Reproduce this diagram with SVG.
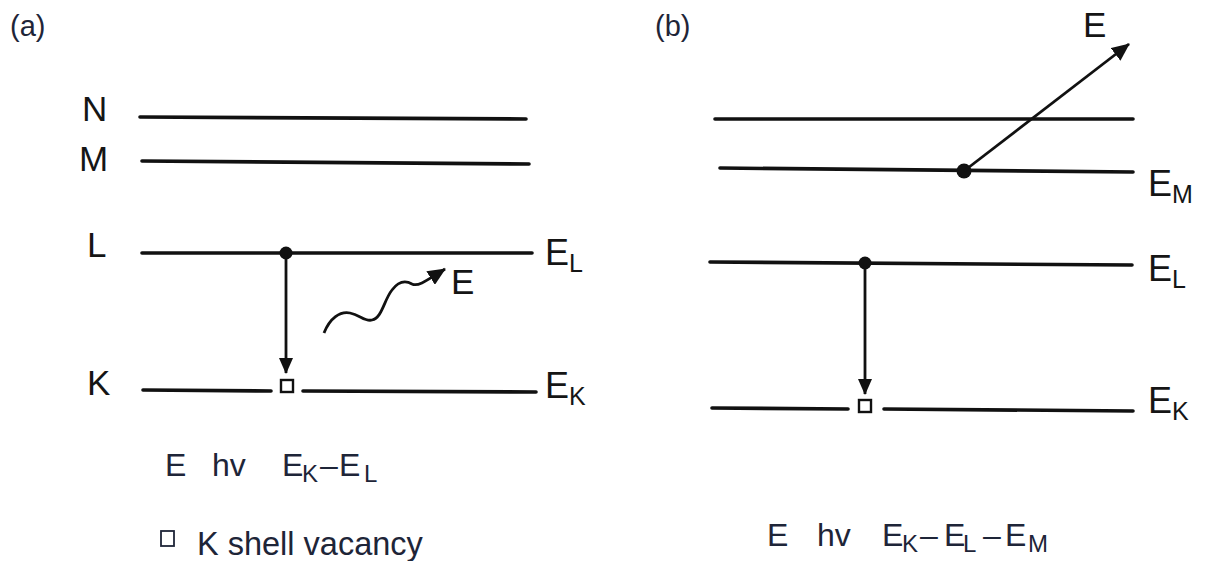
<svg xmlns="http://www.w3.org/2000/svg" width="1209" height="561" viewBox="0 0 1209 561">
<style>
.lvl{stroke:#111;stroke-width:3.6;fill:none;stroke-linecap:round}
.arr{stroke:#111;stroke-width:2.8;fill:none}
.lab{font-family:"Liberation Sans",Arial,sans-serif;font-size:35px;fill:#151515}
.el{font-family:"Liberation Sans",Arial,sans-serif;font-size:36px;fill:#151515}
.sub{font-size:25px}
.cap{font-family:"Liberation Sans",Arial,sans-serif;font-size:29px;fill:#1e2538}
.frm{font-family:"Liberation Sans",Arial,sans-serif;font-size:32px;fill:#1e2538}
.fs{font-size:24px}
.dot{fill:#111}
.vac{fill:#fff;stroke:#111;stroke-width:2.4}
</style>
<defs>
<marker id="ah" viewBox="0 0 16 14" refX="15" refY="7" markerWidth="16" markerHeight="14" markerUnits="userSpaceOnUse" orient="auto">
<path d="M0,0 L16,7 L0,14 z" fill="#111"/>
</marker>
<marker id="ah2" viewBox="0 0 18 16" refX="17" refY="8" markerWidth="18" markerHeight="16" markerUnits="userSpaceOnUse" orient="auto">
<path d="M0,0 L18,8 L0,16 z" fill="#111"/>
</marker>
</defs>

<g id="panel-a">
<text class="cap" x="10" y="36">(a)</text>
<g id="a-level-N"><text class="lab" x="82" y="121">N</text><line class="lvl" x1="140" y1="117" x2="526" y2="119"/></g>
<g id="a-level-M"><text class="lab" x="79" y="171">M</text><line class="lvl" x1="142" y1="161" x2="529" y2="164"/></g>
<g id="a-level-L"><text class="lab" x="87" y="257">L</text><line class="lvl" x1="142" y1="253" x2="532" y2="253"/>
<text class="el" x="545" y="265">E<tspan class="sub" dy="7">L</tspan></text></g>
<g id="a-level-K"><text class="lab" x="87" y="395">K</text>
<line class="lvl" x1="143" y1="390" x2="271" y2="391"/><line class="lvl" x1="303" y1="391" x2="536" y2="392"/>
<text class="el" x="545" y="398">E<tspan class="sub" dy="7">K</tspan></text></g>
<g id="a-electron"><circle class="dot" cx="286" cy="253" r="6.5"/></g>
<g id="a-vacancy"><rect class="vac" x="281" y="380" width="12" height="12"/></g>
<g id="a-photon-label"><text class="lab" x="451" y="294">E</text></g>
<g id="a-formula"><text class="frm" x="165" y="476">E<tspan x="212">hv</tspan><tspan x="282">E</tspan><tspan class="fs" x="302" dy="6">K</tspan><tspan x="320" dy="-6">–</tspan><tspan x="339">E</tspan><tspan class="fs" x="364" dy="6">L</tspan></text></g>
<g id="a-legend"><rect x="161" y="531" width="13" height="15" fill="none" stroke="#1e2538" stroke-width="1.8"/><text class="frm" x="197" y="555" style="font-size:32.5px">K shell vacancy</text></g>
</g>

<g id="panel-b">
<text class="cap" x="655" y="36">(b)</text>
<g id="b-level-N"><line class="lvl" x1="715" y1="119" x2="1133" y2="119"/></g>
<g id="b-level-M"><line class="lvl" x1="720" y1="168" x2="1133" y2="172"/>
<text class="el" x="1148" y="196">E<tspan class="sub" dy="7">M</tspan></text></g>
<g id="b-level-L"><line class="lvl" x1="710" y1="262" x2="1132" y2="265"/>
<text class="el" x="1148" y="281">E<tspan class="sub" dy="7">L</tspan></text></g>
<g id="b-level-K"><line class="lvl" x1="712" y1="408" x2="848" y2="409"/><line class="lvl" x1="884" y1="409" x2="1133" y2="411"/>
<text class="el" x="1148" y="413">E<tspan class="sub" dy="7">K</tspan></text></g>
<g id="b-electron-M"><circle class="dot" cx="964" cy="171" r="7.5"/></g>
<g id="b-electron-L"><circle class="dot" cx="865" cy="263" r="6.5"/></g>
<g id="b-vacancy"><rect class="vac" x="859" y="400" width="12" height="12"/></g>
<g id="b-auger-label"><text class="lab" x="1083" y="37">E</text></g>
<g id="b-formula"><text class="frm" x="767" y="546">E<tspan x="817">hv</tspan><tspan x="882">E</tspan><tspan class="fs" x="902" dy="6">K</tspan><tspan x="920" dy="-6">–</tspan><tspan x="944">E</tspan><tspan class="fs" x="963" dy="6">L</tspan><tspan x="983" dy="-6">–</tspan><tspan x="1005">E</tspan><tspan class="fs" x="1028" dy="6">M</tspan></text></g>
</g>

<g id="connectors">
<line class="arr" x1="286" y1="253" x2="286" y2="373" marker-end="url(#ah)"/>
<path class="arr" d="M324,333 C330,318 340,311 350,313 C360,315 365,322 372,320 C382,318 384,300 392,290 C398,282 405,280 412,284 C418,287 426,281 445,269" marker-end="url(#ah2)"/>
<line class="arr" x1="865" y1="263" x2="865" y2="394" marker-end="url(#ah)"/>
<line class="arr" x1="964" y1="171" x2="1129" y2="44" marker-end="url(#ah2)"/>
</g>
</svg>
